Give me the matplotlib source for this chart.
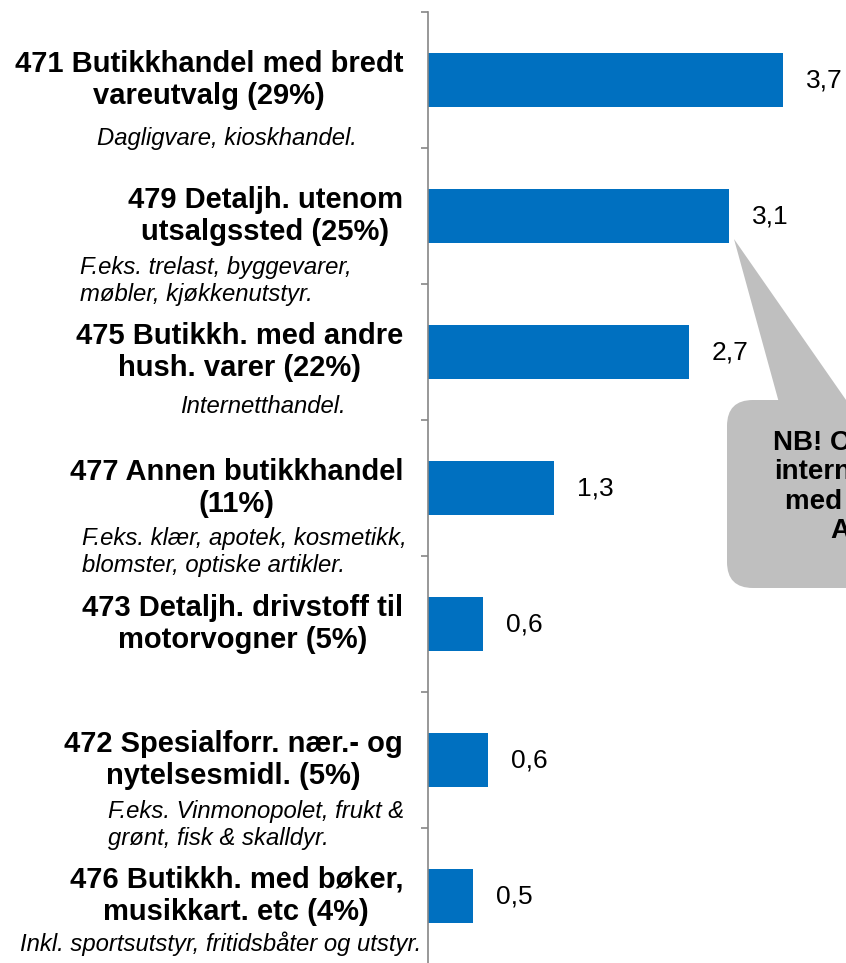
import matplotlib
matplotlib.use("Agg")
import matplotlib.pyplot as plt
import matplotlib.transforms as mtransforms
from matplotlib.patches import FancyBboxPatch, Polygon

plt.rcParams['font.family'] = ['Liberation Sans', 'DejaVu Sans']

# data
labels = ['471 Butikkhandel med bredt\nvareutvalg (29%)',
          '479 Detaljh. utenom\nutsalgssted (25%)',
          '475 Butikkh. med andre\nhush. varer (22%)',
          '477 Annen butikkhandel\n(11%)',
          '473 Detaljh. drivstoff til\nmotorvogner (5%)',
          '472 Spesialforr. nær.- og\nnytelsesmidl. (5%)',
          '476 Butikkh. med bøker,\nmusikkart. etc (4%)']
notes = ['Dagligvare, kioskhandel.',
         'F.eks. trelast, byggevarer,\nmøbler, kjøkkenutstyr.',
         'Internetthandel.',
         'F.eks. klær, apotek, kosmetikk,\nblomster, optiske artikler.',
         '',
         'F.eks. Vinmonopolet, frukt &\ngrønt, fisk & skalldyr.',
         'Inkl. sportsutstyr, fritidsbåter og utstyr.']
values = [3.70, 3.14, 2.72, 1.32, 0.58, 0.63, 0.47]
callout_text = 'NB! Omsetning\ninternetthandel\nmed i flere 47\nAndre.'

# layout of the italic notes (left x in px, drop below bar centre in px)
note_x = [97, 80, 180, 82, 0, 108, 20]
note_dy = [58, 65, 54, 64, 0, 65, 48]

W, H = 846, 963
fig = plt.figure(figsize=(W / 100, H / 100), dpi=100)
ax = fig.add_axes([427.5 / W, -1 / H, (W - 427.5) / W, 952 / H])

blue = '#0070C0'
grey = '#868686'
ypos = list(range(len(values)))
ax.barh(ypos, values, height=0.4, color=blue)
ax.set_ylim(len(values) - 0.5, -0.5)
ax.set_xlim(0, (W - 427.5) / 96.0)

for s in ['top', 'right', 'bottom']:
    ax.spines[s].set_visible(False)
ax.spines['left'].set_color(grey)
ax.spines['left'].set_linewidth(1.2)
ax.set_xticks([])
ax.set_yticks([])
ax.set_yticks([i - 0.5 for i in range(len(values) + 1)], minor=True)
ax.tick_params(axis='y', which='minor', length=5, width=1.2, color=grey,
               direction='out', labelleft=False)

for i, v in enumerate(values):
    ax.annotate(f'{v:.1f}'.replace('.', ','), xy=(v, i), xytext=(23, 0),
                textcoords='offset pixels', va='center', ha='left',
                fontsize=19, color='black')

trans = mtransforms.blended_transform_factory(fig.transFigure, ax.transData)
for i, lab in enumerate(labels):
    ax.text(403 / W, i, lab, transform=trans, ha='right', va='center',
            multialignment='center', fontweight='bold', fontsize=21,
            linespacing=1.2, clip_on=False)
    if notes[i]:
        ax.annotate(notes[i], xy=(note_x[i] / W, i), xycoords=trans,
                    xytext=(0, -note_dy[i]), textcoords='offset pixels',
                    ha='left', va='center', fontstyle='italic', fontsize=17.2,
                    linespacing=1.2, annotation_clip=False)

# callout bubble (pixel coords, top origin)
px = mtransforms.Affine2D().scale(1 / W, 1 / H) + fig.transFigure
box_grey = '#BFBFBF'
bubble = FancyBboxPatch((727, H - 588), 260, 188,
                        boxstyle='round,pad=0,rounding_size=26',
                        transform=px, facecolor=box_grey, edgecolor='none')
tail = Polygon([(734, H - 239), (781, H - 410), (853, H - 410)],
               closed=True, transform=px, facecolor=box_grey, edgecolor='none')
fig.add_artist(bubble)
fig.add_artist(tail)
fig.text(874 / W, (H - 487) / H, callout_text, ha='center', va='center',
         multialignment='center', fontweight='bold', fontsize=20,
         linespacing=1.17)

fig.savefig('out.png', dpi=100)
